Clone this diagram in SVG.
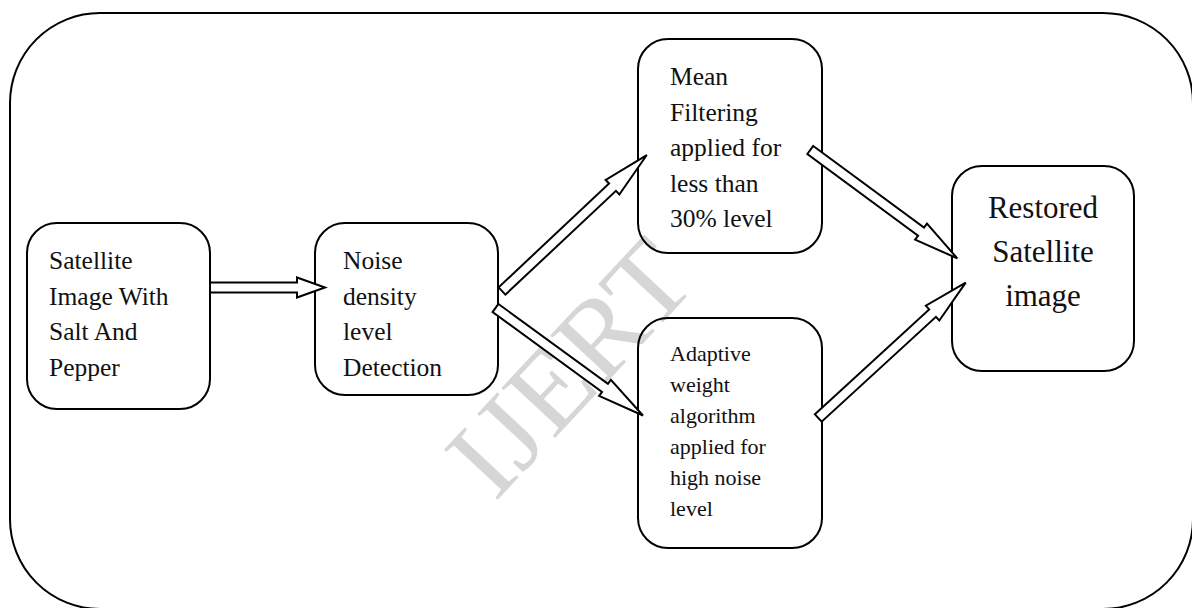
<svg xmlns="http://www.w3.org/2000/svg" width="1192" height="608" viewBox="0 0 1192 608">
<style>
.frame{fill:none;stroke:#000;stroke-width:2}
.box{fill:none;stroke:#000;stroke-width:2}
.arrow{fill:#fff;stroke:#000;stroke-width:2;stroke-linejoin:miter}
.t{font-family:"Liberation Serif","Times New Roman",serif;fill:#111}
.t25{font-size:25.5px}
.t22{font-size:22px}
.t31{font-size:31px}
.wm{font-family:"Liberation Serif","Times New Roman",serif;font-size:112px;fill:#d6d6d6}
</style>
<rect width="1192" height="608" fill="#fff"/>
<text class="wm" text-anchor="middle" textLength="300" lengthAdjust="spacingAndGlyphs" transform="translate(597,393) rotate(-47)">IJERT</text>
<rect class="frame" x="10" y="13" width="1183" height="596" rx="90" ry="90"/>
<g id="node-input">
<rect class="box" x="27" y="223" width="183" height="186" rx="30" ry="30"/>
<text class="t t25"><tspan x="49" y="269">Satellite</tspan><tspan x="49" y="304.5">Image With</tspan><tspan x="49" y="340">Salt And</tspan><tspan x="49" y="375.5">Pepper</tspan></text>
</g>
<g id="node-noise">
<rect class="box" x="315" y="223" width="183" height="172" rx="30" ry="30"/>
<text class="t t25"><tspan x="343" y="269">Noise</tspan><tspan x="343" y="304.5">density</tspan><tspan x="343" y="340">level</tspan><tspan x="343" y="375.5">Detection</tspan></text>
</g>
<g id="node-mean">
<rect class="box" x="638" y="39" width="184" height="214" rx="30" ry="30"/>
<text class="t t25"><tspan x="670" y="85">Mean</tspan><tspan x="670" y="120.5">Filtering</tspan><tspan x="670" y="156">applied for</tspan><tspan x="670" y="191.5">less than</tspan><tspan x="670" y="227">30% level</tspan></text>
</g>
<g id="node-adaptive">
<rect class="box" x="638" y="318" width="184" height="230" rx="30" ry="30"/>
<text class="t t22"><tspan x="670" y="361">Adaptive</tspan><tspan x="670" y="392">weight</tspan><tspan x="670" y="423">algorithm</tspan><tspan x="670" y="454">applied for</tspan><tspan x="670" y="485">high noise</tspan><tspan x="670" y="516">level</tspan></text>
</g>
<g id="node-restored">
<rect class="box" x="952" y="166" width="182" height="205" rx="30" ry="30"/>
<text class="t t31" text-anchor="middle"><tspan x="1043" y="218">Restored</tspan><tspan x="1043" y="262">Satellite</tspan><tspan x="1043" y="306">image</tspan></text>
</g>
<g id="connectors">
<path class="arrow" transform="translate(210,287.5)" d="M0,-5 H87 V-10 L115,0 L87,10 V5 H0 Z"/>
<path class="arrow" transform="translate(502,291) rotate(-43.2)" d="M0,-5 H151.6 V-10 L198.6,0 L151.6,10 V5 H0 Z"/>
<path class="arrow" transform="translate(495.5,308) rotate(36.1)" d="M0,-5 H135.5 V-10 L182.5,0 L135.5,10 V5 H0 Z"/>
<path class="arrow" transform="translate(810.3,150) rotate(36.4)" d="M0,-5 H137.6 V-10 L182.6,0 L137.6,10 V5 H0 Z"/>
<path class="arrow" transform="translate(818.3,418) rotate(-42.55)" d="M0,-5 H155.1 V-10 L200.1,0 L155.1,10 V5 H0 Z"/>
</g>
</svg>
